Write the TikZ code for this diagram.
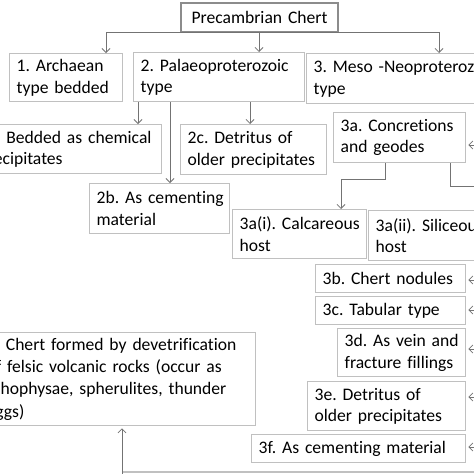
\documentclass[tikz,border=0pt]{standalone}
\usepackage{fontspec}
\setmainfont{Carlito}[Ligatures=NoCommon]
\usetikzlibrary{arrows.meta}
\definecolor{boxgray}{RGB}{192,192,192}
\definecolor{pcgray}{RGB}{140,140,140}
\definecolor{linegray}{RGB}{115,115,115}
\newcommand\boxfont{\fontsize{17.6}{21.5}\selectfont\frenchspacing}
\newcommand\jline[1]{\makebox[262pt][s]{#1}}
\begin{document}
\begin{tikzpicture}[x=1pt,y=-1pt,
  box/.style={draw=boxgray, line width=1.3pt, anchor=north west, align=left,
    inner xsep=7pt, inner ysep=0pt, font=\boxfont, text=black},
  pcbox/.style={box, draw=pcgray, line width=2pt, align=center},
  arr/.style={draw=linegray, line width=0.8pt, -{Straight Barb[length=4pt,width=8pt]}},
  ln/.style={draw=linegray, line width=0.8pt},
  edge/.style={draw=boxgray, line width=1.3pt}]
\useasboundingbox (0,0) rectangle (474,474);
\fill[white] (0,0) rectangle (474,474);
\clip (0,0) rectangle (474,474);

% boxes
\node[pcbox, text width=143pt, minimum height=29pt] (pc) at (180,1.5) {Precambrian Chert};
\node[box, text width=99pt, minimum height=48pt] (b1) at (9,53) {\mbox{1. Archaean}\\\mbox{type bedded}};
\node[box, text width=157pt, minimum height=49pt] (b2) at (133,52) {\mbox{2. Palaeoproterozoic}\\type};
\node[box, text width=186pt, minimum height=50pt] (b3) at (306,53) {\mbox{3. Meso -Neoproterozoic}\\type};
\node[box, text width=176pt, minimum height=49pt] (b2a) at (-29,124) {\mbox{2a. Bedded as chemical}\\precipitates};
\node[box, text width=132pt, minimum height=50pt] (b2c) at (180,124) {\mbox{2c. Detritus of}\\\mbox{older precipitates}};
\node[box, text width=118pt, minimum height=50pt] (b3a) at (333,112) {\mbox{3a. Concretions}\\\mbox{and geodes}};
\node[box, text width=126pt, minimum height=50pt] (b2b) at (89,183) {\mbox{2b. As cementing}\\material};
\node[box, text width=120pt, minimum height=49pt] (b3ai) at (232,209) {\mbox{3a(i). Calcareous}\\host};
\node[box, text width=140pt, minimum height=50pt] (b3aii) at (368,210) {\mbox{3a(ii). Siliceous}\\host};
\node[box, text width=136pt, minimum height=28pt] (b3b) at (315,264) {\mbox{3b. Chert nodules}};
\node[box, text width=136pt, minimum height=28pt] (b3c) at (315,296) {\mbox{3c. Tabular type}};
\node[box, text width=114pt, minimum height=48pt] (b3d) at (337,328) {\mbox{3d. As vein and}\\\mbox{fracture fillings}};
\node[box, text width=144pt, minimum height=49pt] (b3e) at (307,381) {\mbox{3e. Detritus of}\\\mbox{older precipitates}};
\node[box, text width=200pt, minimum height=28pt] (b3f) at (251,434) {\mbox{3f. As cementing material}};
\node[box, text width=262pt, minimum height=93pt,
      font=\fontsize{17.6}{22.2}\selectfont\frenchspacing] (b4) at (-21,332)
  {\jline{4. Chert formed by devetrification}\\
   \jline{of felsic volcanic rocks (occur as}\\
   \jline{lithophysae, spherulites, thunder}\\
   eggs)};

% top distribution
\coordinate (hA) at (106,32);
\coordinate (hB) at (259,32);
\coordinate (hC) at (439,32);
\draw[ln] (pc.south -| hB) -- (hB);
\draw[ln] (hA) -- (hC);
\draw[arr] (hA) -- (hA |- b1.north);
\draw[arr] (hB) -- (hB |- b2.north);
\draw[arr] (hC) -- (hC |- b3.north);

% from box 2
\coordinate (x2a) at (138,0);
\coordinate (x2b) at (170,0);
\coordinate (x2c) at (250,0);
\draw[arr] (b2.south -| x2a) -- (b2a.north -| x2a);
\draw[arr] (b2.south -| x2b) -- (b2b.north -| x2b);
\draw[arr] (b2.south -| x2c) -- (b2c.north -| x2c);

% from 3a
\coordinate (x3a) at (385,0);
\coordinate (x3ai) at (341,0);
\coordinate (x3r) at (450,0);
\coordinate (r3x) at (490,186);
\draw[arr] (b3a.south -| x3a) -- ++(0,16) -| (b3ai.north -| x3ai);
\draw[ln] (b3a.south -| x3r) |- (r3x);

% arrows from the right
\coordinate (r3a) at (490,145);
\coordinate (r3b) at (490,280);
\coordinate (r3c) at (490,310);
\coordinate (r3d) at (490,349);
\coordinate (r3e) at (490,397);
\coordinate (r3f) at (490,447);
\draw[arr] (r3a) -- ([xshift=2pt]r3a -| b3a.east);
\draw[arr] (r3b) -- ([xshift=2pt]r3b -| b3b.east);
\draw[arr] (r3c) -- ([xshift=2pt]r3c -| b3c.east);
\draw[arr] (r3d) -- ([xshift=2pt]r3d -| b3d.east);
\draw[arr] (r3e) -- ([xshift=2pt]r3e -| b3e.east);
\draw[arr] (r3f) -- ([xshift=2pt]r3f -| b3f.east);

% bottom
\coordinate (c4) at (122,490);
\coordinate (e4l) at (122,472);
\coordinate (e4r) at (490,472);
\draw[edge] (e4l) -- (e4r);
\draw[arr] (c4) -- ([yshift=-2pt]c4 |- b4.south);
\end{tikzpicture}
\end{document}
